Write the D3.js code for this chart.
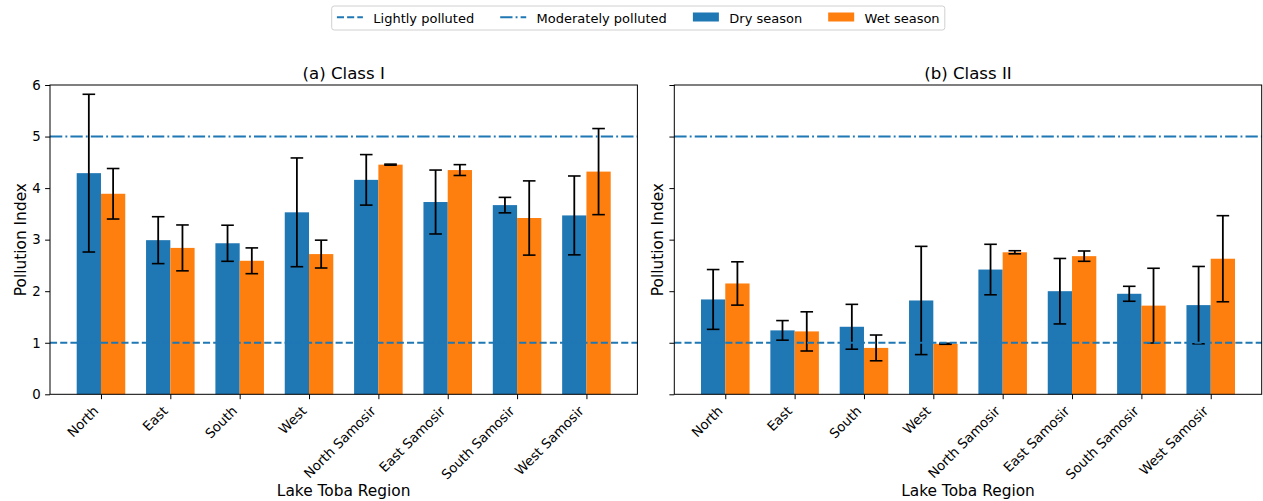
<!DOCTYPE html>
<html>
<head>
<meta charset="utf-8">
<script src="https://cdn.jsdelivr.net/npm/d3@7"></script>
<style>
  body { margin: 0; background: #fff; }
  text { font-family: "DejaVu Sans", sans-serif; fill: #000; }
</style>
</head>
<body>
<div id="chart"></div>
<script>
// values
const regions = ["North", "East", "South", "West", "North Samosir", "East Samosir", "South Samosir", "West Samosir"];
const yTicks = [0, 1, 2, 3, 4, 5, 6];

const class1Dry = [4.29, 2.99, 2.93, 3.53, 4.16, 3.73, 3.67, 3.47];
const class1DryErr = [1.53, 0.455, 0.35, 1.055, 0.49, 0.62, 0.15, 0.765];
const class1Wet = [3.89, 2.84, 2.59, 2.72, 4.455, 4.35, 3.42, 4.32];
const class1WetErr = [0.49, 0.445, 0.25, 0.27, 0.01, 0.105, 0.72, 0.835];

const class2Dry = [1.84, 1.24, 1.31, 1.82, 2.42, 2.0, 1.95, 1.73];
const class2DryErr = [0.58, 0.19, 0.435, 1.05, 0.49, 0.635, 0.145, 0.75];
const class2Wet = [2.15, 1.22, 0.9, 0.98, 2.755, 2.68, 1.72, 2.63];
const class2WetErr = [0.42, 0.38, 0.25, 0.01, 0.03, 0.1, 0.725, 0.835];

const lightlyPolluted = 1;
const moderatelyPolluted = 5;

var width = 1263,
  height = 501;
var blue = "#1f77b4",
  orange = "#ff7f0e";
var barW = 0.35;
var dashed = "7.1,3.1",
  dashdot = "12.3,3.1,1.9,3.1";

var svg = d3
  .select("#chart")
  .append("svg")
  .attr("width", width)
  .attr("height", height);

var panels = [
  { title: "(a) Class I", left: 50, dry: class1Dry, dryErr: class1DryErr, wet: class1Wet, wetErr: class1WetErr, labels: true },
  { title: "(b) Class II", left: 674.3, dry: class2Dry, dryErr: class2DryErr, wet: class2Wet, wetErr: class2WetErr, labels: false },
];

var axTop = 85,
  axBottom = 394.3,
  axW = 587.4;

var y = d3.scaleLinear().domain([0, 6]).range([axBottom, axTop]);

panels.forEach((p) => {
  var x = d3
    .scaleLinear()
    .domain([-0.735, 7.735])
    .range([p.left, p.left + axW]);

  var g = svg.append("g");

  var series = [
    { vals: p.dry, errs: p.dryErr, color: blue, off: -barW },
    { vals: p.wet, errs: p.wetErr, color: orange, off: 0 },
  ];

  series.forEach((s) => {
    var rows = s.vals.map((v, i) => ({ i: i, v: v, e: s.errs[i] }));

    g.selectAll(null)
      .data(rows)
      .enter()
      .append("rect")
      .attr("x", (d) => x(d.i + s.off))
      .attr("width", (d) => x(d.i + s.off + barW) - x(d.i + s.off))
      .attr("y", (d) => y(d.v))
      .attr("height", (d) => y(0) - y(d.v))
      .attr("fill", s.color);

    var eb = g.selectAll(null).data(rows).enter().append("g");
    var cx = (d) => x(d.i + s.off + barW / 2);
    eb.append("line")
      .attr("x1", cx)
      .attr("x2", cx)
      .attr("y1", (d) => y(d.v - d.e))
      .attr("y2", (d) => y(d.v + d.e))
      .attr("stroke", "#000")
      .attr("stroke-width", 1.8);
    [-1, 1].forEach((sign) => {
      eb.append("line")
        .attr("x1", (d) => cx(d) - 6.3)
        .attr("x2", (d) => cx(d) + 6.3)
        .attr("y1", (d) => y(d.v + sign * d.e))
        .attr("y2", (d) => y(d.v + sign * d.e))
        .attr("stroke", "#000")
        .attr("stroke-width", 1.6);
    });
  });

  // reference lines
  [
    [lightlyPolluted, dashed],
    [moderatelyPolluted, dashdot],
  ].forEach(([v, dash]) => {
    g.append("line")
      .attr("x1", p.left)
      .attr("x2", p.left + axW)
      .attr("y1", y(v))
      .attr("y2", y(v))
      .attr("stroke", blue)
      .attr("stroke-width", 1.9)
      .attr("stroke-dasharray", dash);
  });

  // frame
  g.append("rect")
    .attr("x", p.left)
    .attr("y", axTop)
    .attr("width", axW)
    .attr("height", axBottom - axTop)
    .attr("fill", "none")
    .attr("stroke", "#000")
    .attr("stroke-width", 1);

  // y axis
  var yAxis = g
    .append("g")
    .attr("transform", `translate(${p.left},0)`)
    .call(
      d3
        .axisLeft(y)
        .tickValues(yTicks)
        .tickSize(4.9)
        .tickPadding(4.5)
        .tickFormat(p.labels ? d3.format("d") : "")
    );
  yAxis.select(".domain").remove();
  yAxis.selectAll("line").attr("stroke", "#000");
  yAxis.selectAll("text").style("font-size", "13.3px").style("font-family", "DejaVu Sans").attr("fill", "#000");

  // x axis
  var xAxis = g
    .append("g")
    .attr("transform", `translate(0,${axBottom})`)
    .call(
      d3
        .axisBottom(x)
        .tickValues(d3.range(regions.length))
        .tickSize(4.9)
        .tickFormat((i) => regions[i])
    );
  xAxis.select(".domain").remove();
  xAxis.selectAll("line").attr("stroke", "#000");
  xAxis
    .selectAll("text")
    .style("font-size", "13.3px")
    .style("font-family", "DejaVu Sans")
    .attr("fill", "#000")
    .style("text-anchor", "end")
    .attr("x", -2.2)
    .attr("y", 17.5)
    .attr("dy", null)
    .attr("transform", "rotate(-45,-2.2,17.5)");

  // titles and labels
  g.append("text")
    .attr("x", p.left + axW / 2)
    .attr("y", 79)
    .attr("text-anchor", "middle")
    .style("font-size", "16.6px")
    .text(p.title);

  g.append("text")
    .attr("x", p.left + axW / 2)
    .attr("y", 495.5)
    .attr("text-anchor", "middle")
    .style("font-size", "15.4px")
    .text("Lake Toba Region");

  var labX = p.labels ? p.left - 24.5 : p.left - 11.3;
  g.append("text")
    .attr("transform", `translate(${labX},${(axTop + axBottom) / 2}) rotate(-90)`)
    .attr("text-anchor", "middle")
    .style("font-size", "15.4px")
    .text("Pollution Index");
});

// legend
var legendItems = [
  { label: "Lightly polluted", type: "line", dash: dashed },
  { label: "Moderately polluted", type: "line", dash: dashdot },
  { label: "Dry season", type: "patch", color: blue },
  { label: "Wet season", type: "patch", color: orange },
];

var fs = 13;
var lg = svg.append("g");
var box = lg
  .append("rect")
  .attr("y", 6)
  .attr("height", 24)
  .attr("rx", 2.5)
  .attr("fill", "#fff")
  .attr("fill-opacity", 0.8)
  .attr("stroke", "#d0d0d0")
  .attr("stroke-width", 1);

var legLeft = 331.7;
var cur = legLeft + 0.4 * fs;
legendItems.forEach((it, k) => {
  if (it.type === "line") {
    lg.append("line")
      .attr("x1", cur)
      .attr("x2", cur + 2 * fs)
      .attr("y1", 17.3)
      .attr("y2", 17.3)
      .attr("stroke", blue)
      .attr("stroke-width", 1.9)
      .attr("stroke-dasharray", it.dash);
  } else {
    lg.append("rect")
      .attr("x", cur)
      .attr("y", 12.5)
      .attr("width", 2 * fs)
      .attr("height", 9)
      .attr("fill", it.color);
  }
  var t = lg
    .append("text")
    .attr("x", cur + 2.8 * fs)
    .attr("y", 22.5)
    .style("font-size", fs + "px")
    .text(it.label);
  cur = cur + 2.8 * fs + t.node().getComputedTextLength();
  if (k < legendItems.length - 1) cur += 2 * fs;
});
box.attr("x", legLeft).attr("width", cur + 0.4 * fs - legLeft);
</script>
</body>
</html>
